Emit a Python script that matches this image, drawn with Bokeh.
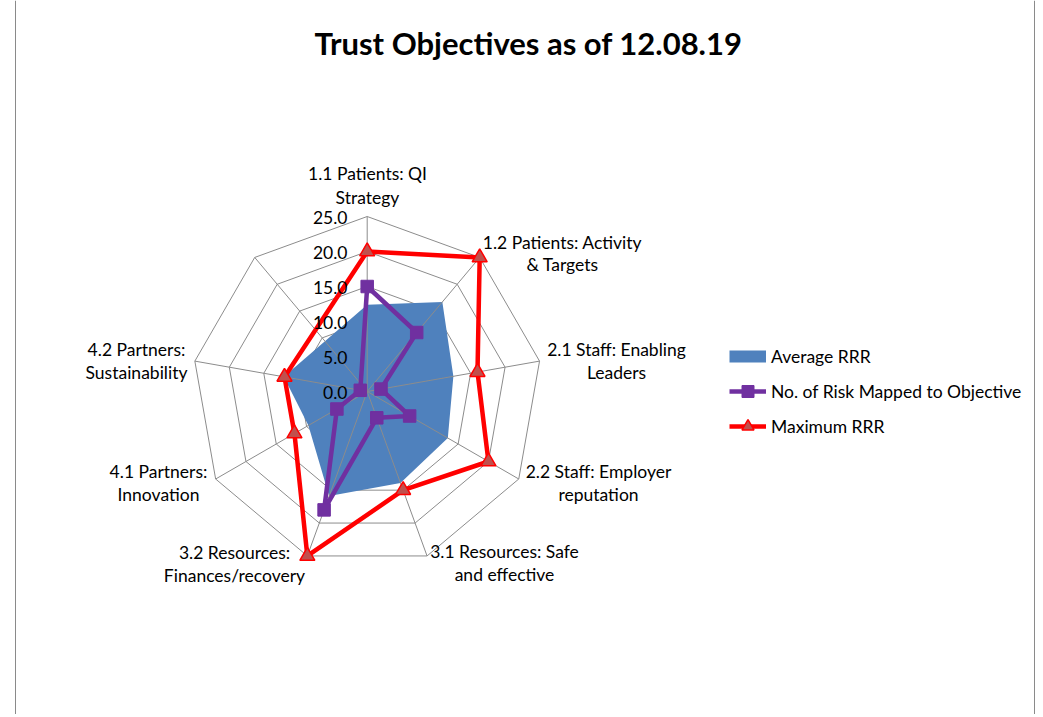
import numpy as np
from bokeh.plotting import figure
from bokeh.models import Range1d, Label, Legend, LegendItem, Span
from bokeh.embed import file_html
from bokeh.resources import INLINE
from bokeh.core.properties import value

# ---------------- data ----------------
categories = [
    "1.1 Patients: QI Strategy",
    "1.2 Patients: Activity & Targets",
    "2.1 Staff: Enabling Leaders",
    "2.2 Staff: Employer reputation",
    "3.1 Resources: Safe and effective",
    "3.2 Resources: Finances/recovery",
    "4.1 Partners: Innovation",
    "4.2 Partners: Sustainability",
    "",
]
label_lines = [
    ("1.1 Patients: QI", "Strategy"),
    ("1.2 Patients: Activity", "& Targets"),
    ("2.1 Staff: Enabling", "Leaders"),
    ("2.2 Staff: Employer", "reputation"),
    ("3.1 Resources: Safe", "and effective"),
    ("3.2 Resources:", "Finances/recovery"),
    ("4.1 Partners:", "Innovation"),
    ("4.2 Partners:", "Sustainability"),
    ("", ""),
]
avg_rrr = [12.4, 16.7, 12.5, 13.3, 13.9, 15.9, 9.7, 12.1, None]
risk_count = [15, 11, 2, 7, 4, 18, 5, 1, None]
max_rrr = [20, 25, 16, 20, 15, 25, 12, 12, None]
tick_values = [0, 5, 10, 15, 20, 25]
tick_labels = ["0.0", "5.0", "10.0", "15.0", "20.0", "25.0"]
title_text = "Trust Objectives as of 12.08.19"
series_names = ["Average RRR", "No. of Risk Mapped to Objective", "Maximum RRR"]

# ---------------- layout ----------------
W, H = 1040, 714
CX, CY, S = 366.7, 391.0, 7.0   # window px of centre, px per unit
OX, OY = 0, 0


def px(x):
    return (x - CX) / S


def py(y):
    return (CY - y) / S


n = len(categories)
theta = np.arange(n) * 2 * np.pi / n


def to_xy(vals):
    xs, ys = [], []
    for v, t in zip(vals, theta):
        if v is None:
            continue
        xs.append(v * np.sin(t))
        ys.append(v * np.cos(t))
    return xs, ys


FONT = "Lato"
FS = "17.5px"

p = figure(width=W, height=H, output_backend="svg", toolbar_location=None,
           title=None, min_border=0,
           x_range=Range1d(px(OX), px(OX + W)), y_range=Range1d(py(OY + H), py(OY)))
p.axis.visible = False
p.grid.visible = False
p.outline_line_color = None
p.background_fill_color = "white"

grid_col = "#8c8c8c"
# rings
ring_xs, ring_ys = [], []
for tv in tick_values[1:]:
    rx = [tv * np.sin(t) for t in theta] + [0]
    ry = [tv * np.cos(t) for t in theta] + [tv]
    ring_xs.append(rx)
    ring_ys.append(ry)
p.multi_line(ring_xs, ring_ys, line_color=grid_col, line_width=1)

# area
ax_, ay_ = to_xy(avg_rrr)
p.patch(ax_, ay_, fill_color="#4F81BD", line_color=None)

# spokes
rmax = tick_values[-1]
p.segment(x0=[0] * n, y0=[0] * n,
          x1=[rmax * np.sin(t) for t in theta], y1=[rmax * np.cos(t) for t in theta],
          line_color=grid_col, line_width=1)

# purple
purple = "#7030A0"
bx, by = to_xy(risk_count)
pl = p.line(bx + bx[:1], by + by[:1], line_color=purple, line_width=4.5, line_join="round")
pm = p.scatter(bx, by, marker="square", size=12.5, fill_color=purple, line_color=purple)

# red
red = "#FF0000"
cx_, cy_ = to_xy(max_rrr)
rl = p.line(cx_ + cx_[:1], cy_ + cy_[:1], line_color=red, line_width=4.5, line_join="round")
rm = p.scatter(cx_, cy_, marker="triangle", size=15, fill_color="#C0504D",
               line_color=red, line_width=1.5)

# legend swatch renderer for the area (no visible data)
dummy = p.line([np.nan], [np.nan], line_color="#4F81BD", line_width=12, line_cap="butt")

# tick labels
p.text(x=[px(347)] * len(tick_values), y=[v - 1.0 / S for v in tick_values], text=tick_labels,
       text_align="right", text_baseline="middle", text_font=value(FONT),
       text_font_size=FS, text_color="black")

# category labels (window px centres of the two lines)
label_pos = [
    (367, 173, 197), (562, 241.5, 264), (616, 349, 372), (598, 471, 494),
    (504, 551, 574), (234, 551.5, 575), (158, 471, 494), (136, 349, 372), (0, 0, 0),
]
lx, ly, lt = [], [], []
for (l1, l2), (x, y1, y2) in zip(label_lines, label_pos):
    if not l1:
        continue
    lx += [px(x), px(x)]
    ly += [py(y1), py(y2)]
    lt += [l1, l2]
p.text(x=lx, y=ly, text=lt, text_align="center", text_baseline="middle",
       text_font=value(FONT), text_font_size=FS, text_color="black")

# title
p.add_layout(Label(x=px(528), y=py(42), text=title_text, text_align="center",
                   text_baseline="middle", text_font=FONT, text_font_size="31px",
                   text_font_style="bold", text_color="black"))

# chart border lines
p.add_layout(Span(location=px(15), dimension="height", line_color="#8a8a8a", line_width=1))
p.add_layout(Span(location=px(1034), dimension="height", line_color="#8a8a8a", line_width=1))

legend = Legend(items=[
    LegendItem(label=series_names[0], renderers=[dummy]),
    LegendItem(label=series_names[1], renderers=[pl, pm]),
    LegendItem(label=series_names[2], renderers=[rl, rm]),
], location=(729 - OX, OY + H - 441), glyph_width=37, glyph_height=30, label_height=20,
    spacing=5, padding=0, margin=0, border_line_color=None, background_fill_alpha=0,
    label_standoff=5, label_text_font=FONT, label_text_font_size=FS,
    label_text_color="black")
p.add_layout(legend)

open("out.html", "w").write(file_html(p, INLINE))
